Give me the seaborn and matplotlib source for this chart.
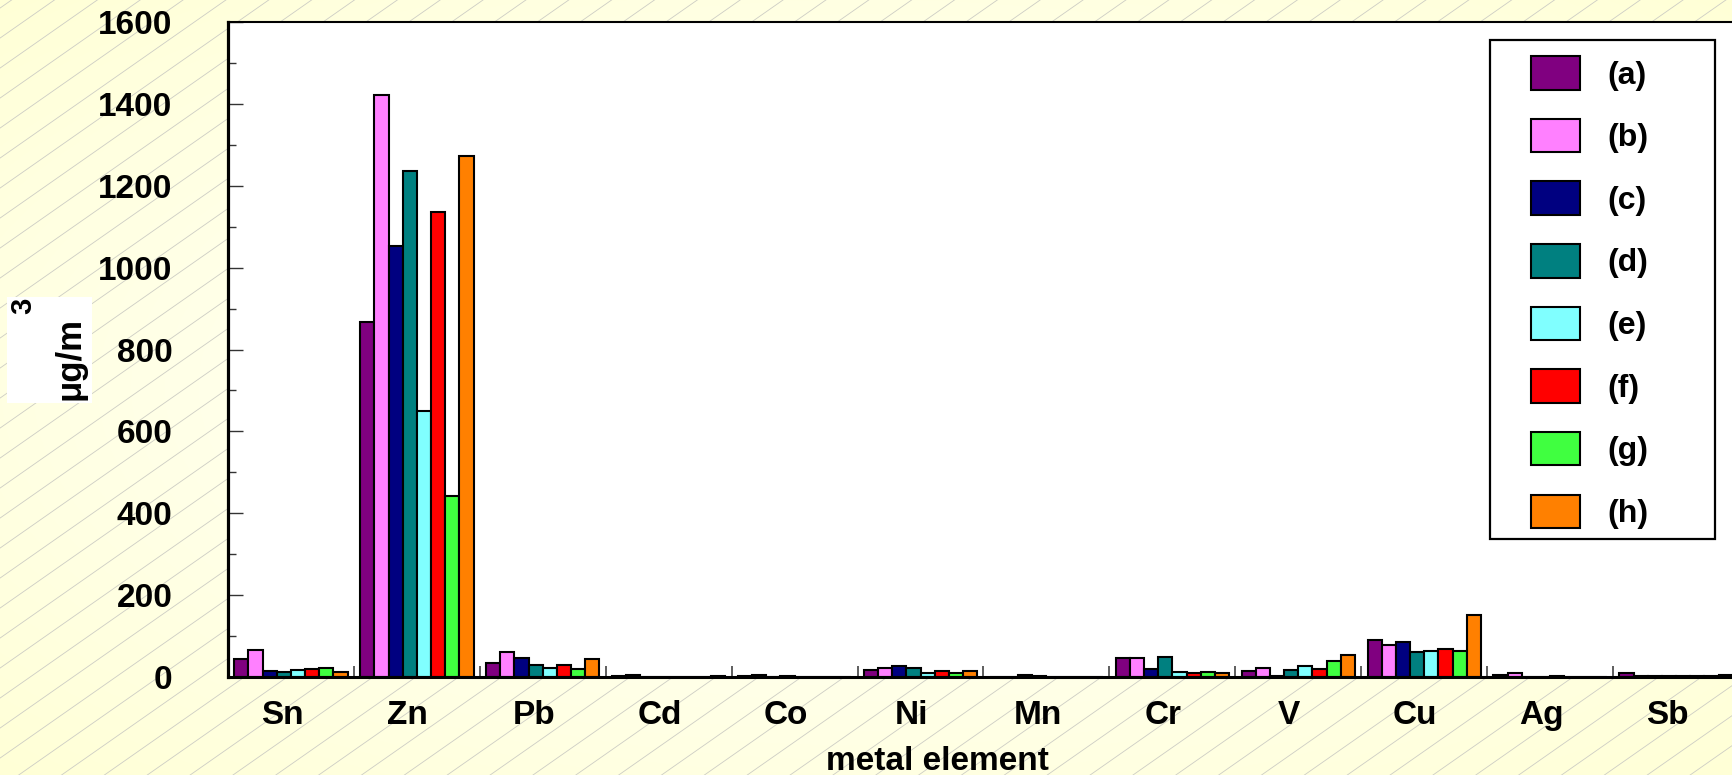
import numpy as np
import pandas as pd
import matplotlib
matplotlib.use("Agg")
import matplotlib.pyplot as plt
from matplotlib.patches import Rectangle
from matplotlib.transforms import ScaledTranslation
import seaborn as sns

# ---- data (µg/m3) ----
elements = ["Sn", "Zn", "Pb", "Cd", "Co", "Ni", "Mn", "Cr", "V", "Cu", "Ag", "Sb"]
samples = ["(a)", "(b)", "(c)", "(d)", "(e)", "(f)", "(g)", "(h)"]
vals_a = [43, 868, 33, 3, 2, 17, 1, 47, 14, 90, 6, 10]
vals_b = [65, 1421, 60, 4, 4, 23, 1, 46, 21, 78, 10, 3]
vals_c = [15, 1054, 46, 1, 1, 26, 5, 20, 2, 85, 1, 2]
vals_d = [13, 1236, 29, 1, 3, 22, 2, 48, 16, 60, 1, 3]
vals_e = [18, 650, 21, 1, 1, 9, 1, 12, 26, 63, 2, 3]
vals_f = [19, 1136, 30, 1, 1, 14, 1, 9, 20, 69, 1, 3]
vals_g = [21, 443, 19, 0.5, 1, 10, 1, 12, 38, 63, 1, 3]
vals_h = [12, 1272, 43, 3, 1, 15, 1, 10, 54, 151, 1, 5]
colors = ["#800080", "#FF80FF", "#000080", "#008080",
          "#80FFFF", "#FF0000", "#40FF40", "#FF8000"]

series = [vals_a, vals_b, vals_c, vals_d, vals_e, vals_f, vals_g, vals_h]
df = pd.DataFrame(
    [(el, s, v) for s, vals in zip(samples, series) for el, v in zip(elements, vals)],
    columns=["element", "sample", "value"],
)

sns.set_style("ticks")
plt.rcParams["font.family"] = ["Liberation Sans", "DejaVu Sans"]
plt.rcParams["font.weight"] = "bold"
plt.rcParams["text.color"] = "black"
plt.rcParams["axes.labelcolor"] = "black"
plt.rcParams["xtick.labelcolor"] = "black"
plt.rcParams["ytick.labelcolor"] = "black"

W, H = 1733, 775
fig = plt.figure(figsize=(W / 100, H / 100), dpi=100)

# ---- pale yellow backdrop with diagonal hairlines ----
bg = fig.add_axes([0, 0, 1, 1], zorder=-10)
bg.set_xlim(0, W)
bg.set_ylim(0, H)
bg.axis("off")
yy, xx = np.mgrid[0:H, 0:W]
r = np.sqrt(((xx - W / 2) / (W / 2)) ** 2 + ((yy - H / 2) / (H / 2)) ** 2) / np.sqrt(2)
inner = np.array([255, 255, 247]) / 255
outer = np.array([255, 255, 214]) / 255
img = inner[None, None, :] + (outer - inner)[None, None, :] * np.clip(r, 0, 1)[..., None] ** 1.3
bg.imshow(img, extent=[0, W, 0, H], origin="lower", aspect="auto")
slope = 0.7
step = 30
for c in np.arange(-slope * W - step, H + step, step):
    bg.plot([0, W], [c, c + slope * W], color="#cdcdc4", lw=0.6)

# ---- main axes ----
L, R, T, B = 228, 1739, 22, 677
ax = fig.add_axes([L / W, 1 - B / H, (R - L) / W, (B - T) / H])
ax.set_facecolor("white")

sns.barplot(data=df, x="element", y="value", hue="sample", palette=colors,
            width=0.9, edgecolor="black", linewidth=1.5, saturation=1,
            errorbar=None, ax=ax)

ax.set_xlim(-0.5, len(elements) - 0.5)
ax.set_ylim(0, 1600)
ax.set_yticks(np.arange(0, 1601, 200))
ax.set_yticks(np.arange(0, 1601, 100), minor=True)
ax.set_xticks(np.arange(0.5, len(elements) - 0.5, 1), minor=True)

ax.tick_params(axis="y", which="major", direction="in", length=11, width=1,
               color="#333333", pad=40, labelsize=24, right=False)
ax.tick_params(axis="y", which="minor", direction="in", length=6, width=1,
               color="#333333", right=False)
ax.tick_params(axis="x", which="major", length=0, pad=16.5, labelsize=24)
ax.tick_params(axis="x", which="minor", direction="in", length=8, width=1.1,
               color="#333333", top=False)
for lab in ax.get_xticklabels():
    lab.set_fontweight("bold")
    lab.set_transform(lab.get_transform() + ScaledTranslation(-9 / 100, 0, fig.dpi_scale_trans))
for lab in ax.get_yticklabels():
    lab.set_fontweight("bold")

for side, lw in [("left", 2.3), ("bottom", 2.2), ("top", 1.5), ("right", 1.5)]:
    ax.spines[side].set_visible(True)
    ax.spines[side].set_linewidth(lw)
    ax.spines[side].set_color("black")

ax.set_ylabel("")
ax.set_xlabel("metal element", fontsize=24, fontweight="bold")
ax.xaxis.set_label_coords(937 / W, 1 - 761 / H, transform=fig.transFigure)
ax.xaxis.label.set_va("center")

# ---- y-axis unit label on white card ----
fig.patches.append(Rectangle((7 / W, 1 - 403 / H), 85 / W, 106 / H,
                             transform=fig.transFigure, facecolor="white",
                             edgecolor="none", zorder=1))
fig.text(70 / W, 1 - 358 / H, "μg/m", rotation=90, ha="center", va="center",
         fontsize=25, fontweight="bold", zorder=2)
fig.text(23 / W, 1 - 306 / H, "3", rotation=90, ha="center", va="center",
         fontsize=21, fontweight="bold", zorder=2)

# ---- legend ----
ax.add_patch(Rectangle((1490 / W, 1 - 539 / H), 225 / W, 499 / H,
                       transform=fig.transFigure, facecolor="white",
                       edgecolor="black", linewidth=1.6, zorder=4.5,
                       clip_on=False))
leg = ax.legend(loc="upper left", bbox_to_anchor=(1531 / W, 1 - 56 / H),
                bbox_transform=fig.transFigure, frameon=False, borderpad=0,
                borderaxespad=0, fontsize=23, handlelength=1.54,
                handleheight=1.24, handletextpad=0.85, labelspacing=0.88,
                title=None)
for t in leg.get_texts():
    t.set_fontweight("bold")
for h in leg.legend_handles:
    h.set_edgecolor("black")
    h.set_linewidth(1.5)

fig.savefig("out.png", dpi=100)
